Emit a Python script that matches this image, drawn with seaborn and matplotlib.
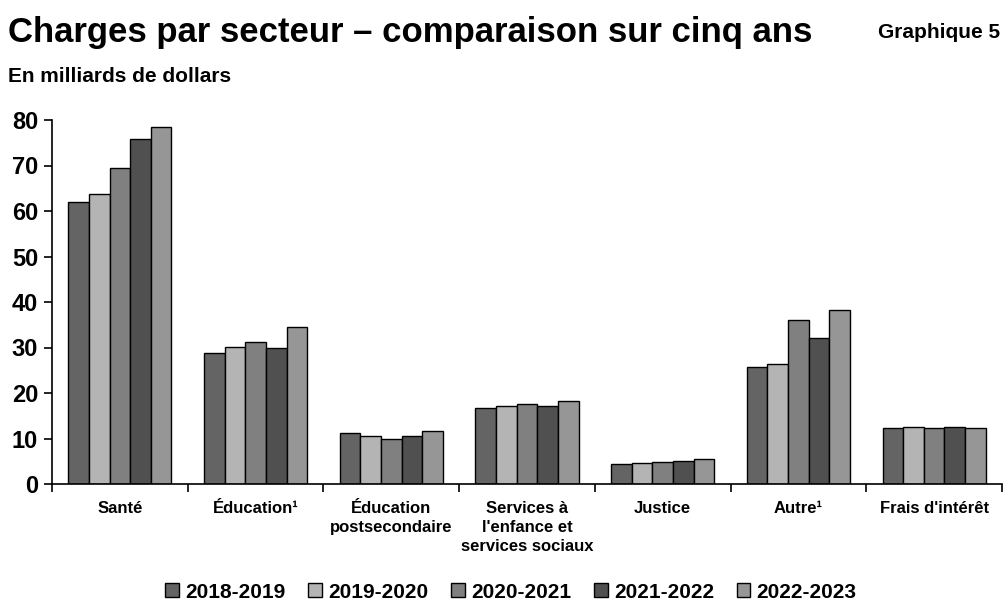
import numpy as np
import pandas as pd
import matplotlib
matplotlib.use("Agg")
import matplotlib.pyplot as plt
import seaborn as sns

# data (billions of dollars)
categories = ["Santé", "Éducation¹", "Éducation\npostsecondaire",
              "Services à\nl'enfance et\nservices sociaux", "Justice",
              "Autre¹", "Frais d'intérêt"]
years = ["2018-2019", "2019-2020", "2020-2021", "2021-2022", "2022-2023"]
v_2018 = [62.0, 28.9, 11.2, 16.8, 4.4, 25.8, 12.4]
v_2019 = [63.8, 30.2, 10.5, 17.1, 4.7, 26.3, 12.5]
v_2020 = [69.5, 31.3, 9.8, 17.5, 4.8, 36.1, 12.3]
v_2021 = [75.8, 29.9, 10.5, 17.1, 5.0, 32.1, 12.5]
v_2022 = [78.5, 34.6, 11.6, 18.2, 5.5, 38.2, 12.4]
colors = ["#646464", "#b4b4b4", "#808080", "#505050", "#969696"]

rows = []
for yr, vals in zip(years, [v_2018, v_2019, v_2020, v_2021, v_2022]):
    for c, v in zip(categories, vals):
        rows.append({"secteur": c, "annee": yr, "valeur": v})
df = pd.DataFrame(rows)

sns.set_style("ticks")
plt.rcParams['font.family'] = ['Liberation Sans', 'DejaVu Sans']
plt.rcParams['font.weight'] = 'bold'
for k in ['text.color', 'axes.labelcolor', 'xtick.color', 'ytick.color', 'axes.edgecolor']:
    plt.rcParams[k] = 'black'

fig = plt.figure(figsize=(10.06, 6.03), dpi=100)
ax = fig.add_axes([52/1006, 1 - 484/603, 950/1006, 364/603])

sns.barplot(data=df, x="secteur", y="valeur", hue="annee", order=categories,
            hue_order=years, palette=colors, width=0.76, edgecolor="black",
            linewidth=1, saturation=1, ax=ax)

ax.set_ylim(0, 80)
ax.set_xlim(-0.5, len(categories) - 0.5)
ax.set_yticks(range(0, 81, 10))
ax.set_xlabel("")
ax.set_ylabel("")
sns.despine(ax=ax)
ax.spines['left'].set_linewidth(1.2)
ax.spines['bottom'].set_linewidth(1.2)
ax.tick_params(axis='y', labelsize=17, length=6, width=1.2, pad=4)
ax.tick_params(axis='x', which='major', length=0, labelsize=12, pad=12)
ax.set_xticks(np.arange(-0.5, len(categories), 1), minor=True)
ax.tick_params(axis='x', which='minor', length=6, width=1.2, direction='out')
for lab in ax.get_yticklabels() + ax.get_xticklabels():
    lab.set_fontweight('bold')
for lab in ax.get_xticklabels():
    lab.set_linespacing(1.35)

ax.legend(loc='center', bbox_to_anchor=(511/950 - 52/950, -108/364), ncol=5,
          frameon=False, handlelength=0.65, handleheight=0.65,
          handletextpad=0.3, columnspacing=1.1,
          prop={'weight': 'bold', 'size': 15})

fig.text(8/1006, 1 - 42/603, "Charges par secteur – comparaison sur cinq ans",
         fontsize=25, fontweight='bold', ha='left', va='baseline')
fig.text(1000/1006, 1 - 38/603, "Graphique 5", fontsize=15, fontweight='bold',
         ha='right', va='baseline')
fig.text(8/1006, 1 - 82/603, "En milliards de dollars", fontsize=15,
         fontweight='bold', ha='left', va='baseline')

fig.savefig("out.png", dpi=100)
